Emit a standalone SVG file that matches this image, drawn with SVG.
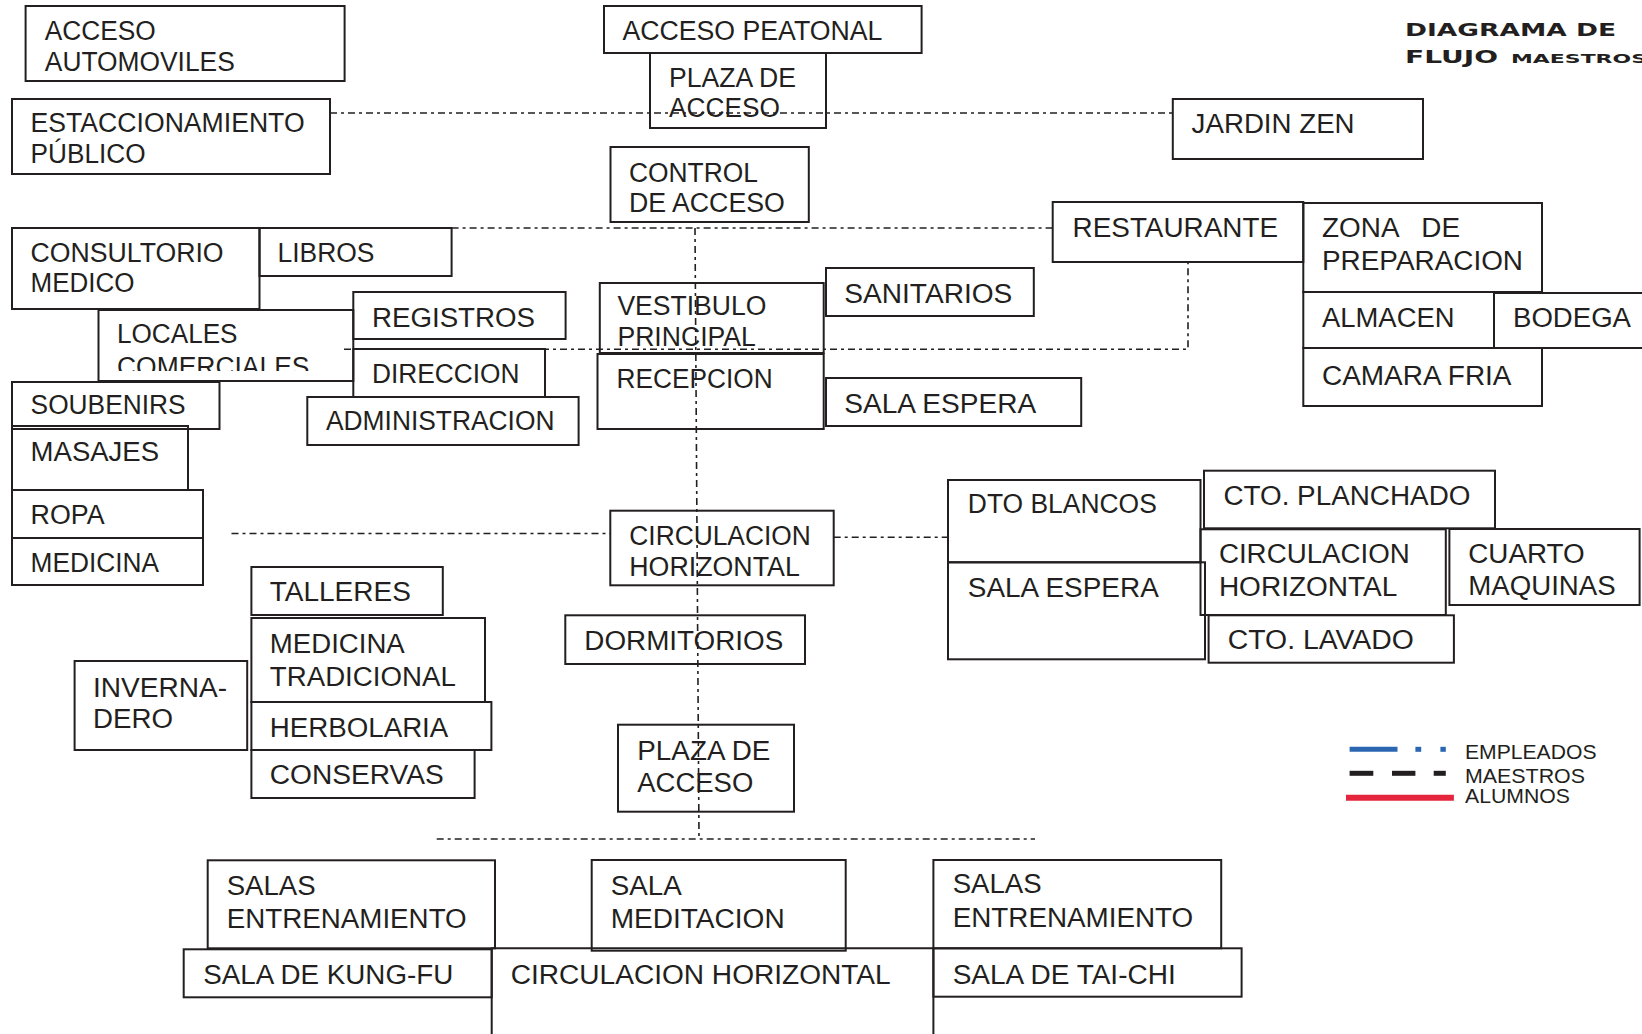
<svg xmlns="http://www.w3.org/2000/svg" width="1642" height="1034" viewBox="0 0 1642 1034">
<style>
.box{fill:none;stroke:#231f20;stroke-width:2}
.t{font-family:"Liberation Sans",Arial,sans-serif;font-size:27px;fill:#231f20}
.c{fill:none;stroke:#231f20;stroke-width:1.6;stroke-dasharray:7 4 3 4}
.lg{font-family:"Liberation Sans",Arial,sans-serif;font-size:21px;fill:#231f20}
.ti{font-family:"DejaVu Sans","Liberation Sans",sans-serif;font-weight:bold;fill:#231f20}
</style>
<defs>
<clipPath id="clipLoc"><rect x="98" y="310" width="256" height="61"/></clipPath>
</defs>
<rect width="1642" height="1034" fill="#ffffff"/>

<g id="title">
<text class="ti" x="1405" y="36" font-size="18" textLength="211" lengthAdjust="spacingAndGlyphs">DIAGRAMA DE</text>
<text class="ti" x="1405" y="63" font-size="18" textLength="93" lengthAdjust="spacingAndGlyphs">FLUJO</text>
<text class="ti" x="1511" y="63" font-size="13" textLength="136" lengthAdjust="spacingAndGlyphs">MAESTROS</text>
</g>

<g id="acceso-automoviles"><rect class="box" x="25.6" y="6" width="319" height="75"/>
<text class="t" x="44.8" y="40" textLength="111" lengthAdjust="spacingAndGlyphs">ACCESO</text>
<text class="t" x="44.8" y="71" textLength="190" lengthAdjust="spacingAndGlyphs">AUTOMOVILES</text></g>
<g id="estacionamiento"><rect class="box" x="12" y="99" width="318" height="75"/>
<text class="t" x="30.6" y="132" textLength="274" lengthAdjust="spacingAndGlyphs">ESTACCIONAMIENTO</text>
<text class="t" x="30.6" y="163" textLength="115" lengthAdjust="spacingAndGlyphs">PÚBLICO</text></g>
<g id="acceso-peatonal"><rect class="box" x="604" y="6" width="317.6" height="47"/>
<text class="t" x="622.4" y="40" textLength="260" lengthAdjust="spacingAndGlyphs">ACCESO PEATONAL</text></g>
<g id="plaza-acceso-1"><rect class="box" x="650" y="53" width="176" height="75"/>
<text class="t" x="669" y="87" textLength="127" lengthAdjust="spacingAndGlyphs">PLAZA DE</text>
<text class="t" x="669" y="117" textLength="111" lengthAdjust="spacingAndGlyphs">ACCESO</text></g>
<g id="jardin-zen"><rect class="box" x="1172.8" y="99" width="250.2" height="60"/>
<text class="t" x="1191.6" y="133" textLength="163" lengthAdjust="spacingAndGlyphs">JARDIN ZEN</text></g>
<g id="control-acceso"><rect class="box" x="610.5" y="147" width="198.3" height="75"/>
<text class="t" x="628.9" y="182" textLength="129" lengthAdjust="spacingAndGlyphs">CONTROL</text>
<text class="t" x="628.9" y="212" textLength="156" lengthAdjust="spacingAndGlyphs">DE ACCESO</text></g>
<g id="consultorio"><rect class="box" x="12" y="228" width="247.5" height="81"/>
<text class="t" x="30.6" y="262" textLength="193" lengthAdjust="spacingAndGlyphs">CONSULTORIO</text>
<text class="t" x="30.6" y="292" textLength="104" lengthAdjust="spacingAndGlyphs">MEDICO</text></g>
<g id="libros"><rect class="box" x="259.5" y="228" width="192.1" height="48"/>
<text class="t" x="277.5" y="262" textLength="97" lengthAdjust="spacingAndGlyphs">LIBROS</text></g>
<g id="locales"><rect class="box" x="98.5" y="310" width="254.8" height="71"/>
<g clip-path="url(#clipLoc)">
<text class="t" x="117" y="343" textLength="120.5" lengthAdjust="spacingAndGlyphs">LOCALES</text>
<text class="t" x="117" y="376" textLength="192.5" lengthAdjust="spacingAndGlyphs">COMERCIALES</text></g></g>
<g id="registros"><rect class="box" x="353.3" y="292" width="212.3" height="47"/>
<text class="t" x="372" y="327" textLength="163" lengthAdjust="spacingAndGlyphs">REGISTROS</text></g>
<g id="direccion"><rect class="box" x="353.3" y="349" width="191.7" height="48"/>
<text class="t" x="372" y="383" textLength="147.5" lengthAdjust="spacingAndGlyphs">DIRECCION</text></g>
<g id="administracion"><rect class="box" x="307.3" y="397" width="271.3" height="48"/>
<text class="t" x="326" y="430" textLength="228.5" lengthAdjust="spacingAndGlyphs">ADMINISTRACION</text></g>
<g id="soubenirs"><rect class="box" x="12" y="382" width="207.5" height="47"/>
<text class="t" x="30.6" y="414" textLength="155" lengthAdjust="spacingAndGlyphs">SOUBENIRS</text></g>
<g id="masajes"><rect class="box" x="12" y="426" width="176" height="64"/>
<text class="t" x="30.6" y="460.7" textLength="128.5" lengthAdjust="spacingAndGlyphs">MASAJES</text></g>
<g id="ropa"><rect class="box" x="12" y="490" width="191" height="48"/>
<text class="t" x="30.6" y="524" textLength="74" lengthAdjust="spacingAndGlyphs">ROPA</text></g>
<g id="medicina"><rect class="box" x="12" y="538" width="191" height="47"/>
<text class="t" x="30.6" y="572" textLength="128.5" lengthAdjust="spacingAndGlyphs">MEDICINA</text></g>
<g id="talleres"><rect class="box" x="251.4" y="567" width="191.4" height="48"/>
<text class="t" x="269.8" y="601" textLength="141" lengthAdjust="spacingAndGlyphs">TALLERES</text></g>
<g id="medicina-tradicional"><rect class="box" x="251.4" y="618" width="233.6" height="84"/>
<text class="t" x="269.8" y="653" textLength="135" lengthAdjust="spacingAndGlyphs">MEDICINA</text>
<text class="t" x="269.8" y="686" textLength="186" lengthAdjust="spacingAndGlyphs">TRADICIONAL</text></g>
<g id="herbolaria"><rect class="box" x="251.4" y="702" width="240" height="48"/>
<text class="t" x="269.8" y="737" textLength="178.5" lengthAdjust="spacingAndGlyphs">HERBOLARIA</text></g>
<g id="conservas"><rect class="box" x="251.4" y="750" width="223.2" height="48"/>
<text class="t" x="269.8" y="784" textLength="174" lengthAdjust="spacingAndGlyphs">CONSERVAS</text></g>
<g id="invernadero"><rect class="box" x="74.6" y="661" width="172.6" height="89"/>
<text class="t" x="93" y="697" textLength="134" lengthAdjust="spacingAndGlyphs">INVERNA-</text>
<text class="t" x="93" y="728" textLength="80" lengthAdjust="spacingAndGlyphs">DERO</text></g>
<g id="vestibulo"><rect class="box" x="599.8" y="283" width="223.9" height="70"/>
<text class="t" x="617.4" y="315" textLength="149" lengthAdjust="spacingAndGlyphs">VESTIBULO</text>
<text class="t" x="617.4" y="346" textLength="138.5" lengthAdjust="spacingAndGlyphs">PRINCIPAL</text></g>
<g id="recepcion"><rect class="box" x="597.5" y="354" width="226.2" height="75"/>
<text class="t" x="616.6" y="388" textLength="156" lengthAdjust="spacingAndGlyphs">RECEPCION</text></g>
<g id="sanitarios"><rect class="box" x="826" y="268" width="207.8" height="48"/>
<text class="t" x="844.3" y="303" textLength="168" lengthAdjust="spacingAndGlyphs">SANITARIOS</text></g>
<g id="sala-espera-1"><rect class="box" x="826" y="378" width="255.2" height="48"/>
<text class="t" x="844.3" y="413" textLength="192" lengthAdjust="spacingAndGlyphs">SALA ESPERA</text></g>
<g id="restaurante"><rect class="box" x="1052.7" y="202" width="250.6" height="60"/>
<text class="t" x="1072.6" y="237" textLength="205.5" lengthAdjust="spacingAndGlyphs">RESTAURANTE</text></g>
<g id="zona-preparacion"><rect class="box" x="1303.3" y="203" width="238.7" height="89"/>
<text class="t" x="1322" y="237" xml:space="preserve" textLength="138" lengthAdjust="spacingAndGlyphs">ZONA   DE</text>
<text class="t" x="1322" y="270" textLength="201" lengthAdjust="spacingAndGlyphs">PREPARACION</text></g>
<g id="almacen"><rect class="box" x="1303.3" y="292" width="190.7" height="56"/>
<text class="t" x="1322" y="327" textLength="132.5" lengthAdjust="spacingAndGlyphs">ALMACEN</text></g>
<g id="bodega"><rect class="box" x="1494" y="293" width="170" height="55"/>
<text class="t" x="1513" y="327" textLength="118" lengthAdjust="spacingAndGlyphs">BODEGA</text></g>
<g id="camara-fria"><rect class="box" x="1303.3" y="348" width="238.7" height="58"/>
<text class="t" x="1322" y="385" textLength="189.5" lengthAdjust="spacingAndGlyphs">CAMARA FRIA</text></g>
<g id="circulacion-centro"><rect class="box" x="610.3" y="510.7" width="223.4" height="74.6"/>
<text class="t" x="629.3" y="545" textLength="181.5" lengthAdjust="spacingAndGlyphs">CIRCULACION</text>
<text class="t" x="629.3" y="576" textLength="170.5" lengthAdjust="spacingAndGlyphs">HORIZONTAL</text></g>
<g id="dormitorios"><rect class="box" x="565.3" y="615.3" width="239.7" height="48.7"/>
<text class="t" x="584.3" y="650" textLength="199" lengthAdjust="spacingAndGlyphs">DORMITORIOS</text></g>
<g id="plaza-acceso-2"><rect class="box" x="618" y="724.7" width="176" height="87"/>
<text class="t" x="637.3" y="760" textLength="133" lengthAdjust="spacingAndGlyphs">PLAZA DE</text>
<text class="t" x="637.3" y="792" textLength="116" lengthAdjust="spacingAndGlyphs">ACCESO</text></g>
<g id="dto-blancos"><rect class="box" x="948" y="480" width="252.5" height="82.3"/>
<text class="t" x="967.8" y="513" textLength="189" lengthAdjust="spacingAndGlyphs">DTO BLANCOS</text></g>
<g id="sala-espera-2"><rect class="box" x="948" y="562.3" width="257" height="97"/>
<text class="t" x="967.8" y="597" textLength="191" lengthAdjust="spacingAndGlyphs">SALA ESPERA</text></g>
<g id="cto-planchado"><rect class="box" x="1204" y="470.7" width="291" height="57.6"/>
<text class="t" x="1223.4" y="505" textLength="247" lengthAdjust="spacingAndGlyphs">CTO. PLANCHADO</text></g>
<g id="circulacion-derecha"><rect class="box" x="1200.5" y="529.3" width="245.3" height="85.7"/>
<text class="t" x="1218.9" y="563" textLength="191" lengthAdjust="spacingAndGlyphs">CIRCULACION</text>
<text class="t" x="1218.9" y="596" textLength="178.5" lengthAdjust="spacingAndGlyphs">HORIZONTAL</text></g>
<g id="cuarto-maquinas"><rect class="box" x="1449.4" y="529" width="190.2" height="76"/>
<text class="t" x="1468.2" y="563" textLength="116.5" lengthAdjust="spacingAndGlyphs">CUARTO</text>
<text class="t" x="1468.2" y="595" textLength="147.5" lengthAdjust="spacingAndGlyphs">MAQUINAS</text></g>
<g id="cto-lavado"><rect class="box" x="1208.6" y="615.3" width="245.3" height="47.4"/>
<text class="t" x="1227.8" y="649" textLength="186" lengthAdjust="spacingAndGlyphs">CTO. LAVADO</text></g>
<g id="salas-entrenamiento-1"><rect class="box" x="207.7" y="860.3" width="287.3" height="88"/>
<text class="t" x="226.7" y="895" textLength="89" lengthAdjust="spacingAndGlyphs">SALAS</text>
<text class="t" x="226.7" y="928" textLength="240" lengthAdjust="spacingAndGlyphs">ENTRENAMIENTO</text></g>
<g id="sala-kung-fu"><rect class="box" x="183.7" y="949.3" width="308" height="48"/>
<text class="t" x="203.3" y="984" textLength="250" lengthAdjust="spacingAndGlyphs">SALA DE KUNG-FU</text></g>
<g id="sala-meditacion"><rect class="box" x="591.7" y="860" width="254" height="90.7"/>
<text class="t" x="610.7" y="895" textLength="71" lengthAdjust="spacingAndGlyphs">SALA</text>
<text class="t" x="610.7" y="928" textLength="174" lengthAdjust="spacingAndGlyphs">MEDITACION</text></g>
<g id="circulacion-abajo"><path class="box" d="M491.7 1036 V948.3 H933.4 V1036"/>
<text class="t" x="510.7" y="984" textLength="380" lengthAdjust="spacingAndGlyphs">CIRCULACION HORIZONTAL</text></g>
<g id="salas-entrenamiento-2"><rect class="box" x="933.4" y="860" width="287.8" height="88.3"/>
<text class="t" x="952.7" y="893" textLength="89" lengthAdjust="spacingAndGlyphs">SALAS</text>
<text class="t" x="952.7" y="927" textLength="240.5" lengthAdjust="spacingAndGlyphs">ENTRENAMIENTO</text></g>
<g id="sala-tai-chi"><rect class="box" x="933.4" y="948.3" width="308.2" height="48.4"/>
<text class="t" x="952.7" y="984" textLength="223" lengthAdjust="spacingAndGlyphs">SALA DE TAI-CHI</text></g>

<g id="connectors">
<path class="c" d="M330 113 H1172.8"/>
<path class="c" d="M451.6 228 H1052.7"/>
<path class="c" d="M344 349.3 H1188 V262"/>
<path class="c" d="M695 228 L699 839"/>
<path class="c" d="M231.5 533.5 H610.3"/>
<path class="c" d="M833.7 537.3 H948"/>
<path class="c" d="M436.7 839 H1035"/>
</g>

<g id="legend">
<line x1="1349.6" y1="749.3" x2="1397.5" y2="749.3" stroke="#2a66b1" stroke-width="5"/>
<line x1="1415.4" y1="749.3" x2="1421.2" y2="749.3" stroke="#2a66b1" stroke-width="5"/>
<line x1="1440.4" y1="749.3" x2="1445.8" y2="749.3" stroke="#2a66b1" stroke-width="5"/>
<line x1="1349.6" y1="773.3" x2="1373.3" y2="773.3" stroke="#231f20" stroke-width="5"/>
<line x1="1392" y1="773.3" x2="1415.4" y2="773.3" stroke="#231f20" stroke-width="5"/>
<line x1="1433.7" y1="773.3" x2="1445.8" y2="773.3" stroke="#231f20" stroke-width="5"/>
<line x1="1346" y1="797.7" x2="1453.9" y2="797.7" stroke="#e4253b" stroke-width="6"/>
<text class="lg" x="1465" y="759" textLength="131.5" lengthAdjust="spacingAndGlyphs">EMPLEADOS</text>
<text class="lg" x="1465" y="783" textLength="120" lengthAdjust="spacingAndGlyphs">MAESTROS</text>
<text class="lg" x="1465" y="803" textLength="105" lengthAdjust="spacingAndGlyphs">ALUMNOS</text>
</g>
</svg>
